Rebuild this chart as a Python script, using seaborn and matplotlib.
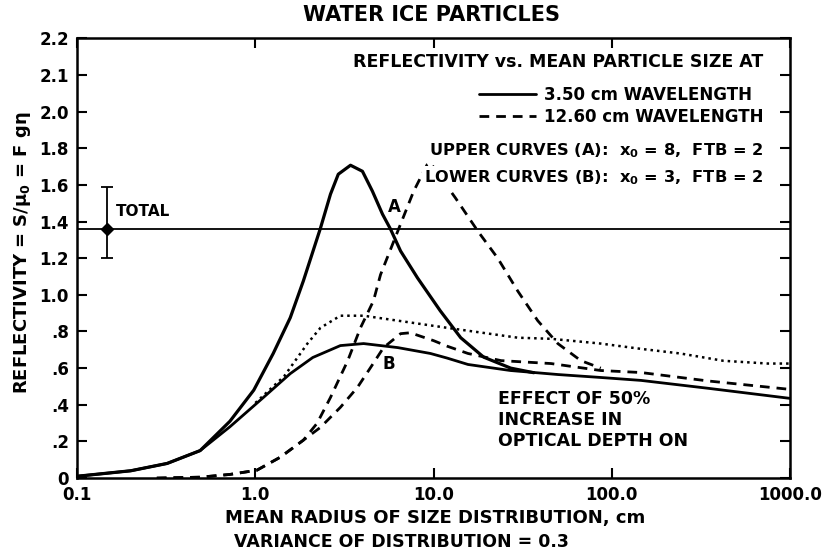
import numpy as np
import matplotlib
matplotlib.use('Agg')
import matplotlib.pyplot as plt
from matplotlib.lines import Line2D
from matplotlib.ticker import NullLocator, FixedLocator
import seaborn as sns

# curves (x = mean radius, cm ; y = reflectivity)
solid_a_x = [0.1, 0.2, 0.32, 0.49, 0.72, 0.98, 1.26, 1.57, 1.86, 2.32, 2.64, 2.92, 3.42, 3.99, 4.54,
             5.17, 5.73, 6.53, 8.13, 10.9, 14.2, 19.1, 27.1, 36.5]
solid_a_y = [0.01, 0.04, 0.08, 0.15, 0.31, 0.48, 0.68, 0.875, 1.076, 1.364, 1.549, 1.658, 1.707, 1.674, 1.565,
             1.44, 1.359, 1.239, 1.092, 0.913, 0.766, 0.66, 0.60, 0.575]

solid_b_x = [0.1, 0.2, 0.32, 0.49, 0.72, 1.11, 1.57, 2.1, 3.0, 4.05, 6.3, 9.6, 11.9, 15.6, 27.0, 50.0,
             86.7, 146.0, 347.0, 1000.0]
solid_b_y = [0.01, 0.04, 0.08, 0.15, 0.28, 0.44, 0.57, 0.658, 0.723, 0.734, 0.712, 0.68, 0.655, 0.62, 0.587, 0.565,
             0.549, 0.533, 0.49, 0.435]

dash_a_x = [0.28, 0.49, 0.72, 1.02, 1.38, 1.86, 2.22, 2.64, 3.3, 3.89, 4.6, 5.04, 6.53, 7.73, 9.2, 9.6,
            13.3, 17.7, 22.9, 29.7, 38.4, 49.8, 67.0, 86.7]
dash_a_y = [0.0, 0.005, 0.02, 0.043, 0.114, 0.207, 0.299, 0.44, 0.641, 0.82, 0.967, 1.11, 1.386, 1.565, 1.71, 1.72,
            1.527, 1.348, 1.20, 1.02, 0.859, 0.734, 0.641, 0.60]

dash_b_x = [0.28, 0.49, 0.72, 1.02, 1.38, 1.86, 2.32, 3.0, 3.74, 4.43, 5.24, 6.53, 7.4, 10.0, 11.9, 15.6,
            23.9, 45.6, 86.7, 146.0, 347.0, 1000.0]
dash_b_y = [0.0, 0.005, 0.02, 0.043, 0.114, 0.207, 0.277, 0.386, 0.495, 0.603, 0.712, 0.788, 0.793, 0.75, 0.72, 0.68,
            0.641, 0.625, 0.587, 0.576, 0.53, 0.484]

# effect of 50% increase in optical depth (dotted)
dot_x = [1.0, 1.45, 1.96, 2.32, 3.0, 4.05, 6.3, 11.9, 29.7, 45.6, 86.7, 146.0, 242.0, 423.0, 752.0, 1000.0]
dot_y = [0.41, 0.555, 0.734, 0.82, 0.886, 0.886, 0.859, 0.82, 0.766, 0.76, 0.734, 0.705, 0.68, 0.64, 0.625, 0.625]

total_x = 0.148
total_y = 1.36
total_lo = 1.20
total_hi = 1.59

x_ticks = [0.1, 1.0, 10.0, 100.0, 1000.0]
x_labels = ['0.1', '1.0', '10.0', '100.0', '1000.0']
y_ticks = [0, 0.2, 0.4, 0.6, 0.8, 1.0, 1.2, 1.4, 1.6, 1.8, 2.0, 2.2, 2.4]
y_labels = ['0', '.2', '.4', '.6', '.8', '1.0', '1.2', '1.4', '1.6', '1.8', '2.0', '2.1', '2.2']

sns.set_style('ticks')
plt.rcParams['font.family'] = ['DejaVu Sans']
plt.rcParams['font.weight'] = 'bold'
plt.rcParams['text.color'] = 'black'
plt.rcParams['axes.labelcolor'] = 'black'
plt.rcParams['xtick.color'] = 'black'
plt.rcParams['ytick.color'] = 'black'

dash = (0, (3.5, 2.5))

fig = plt.figure(figsize=(8.29, 5.54), dpi=100)
ax = fig.add_axes([0.093, 0.137, 0.860, 0.794])

ax.axhline(total_y, color='black', lw=1.3, zorder=1)

sns.lineplot(x=solid_a_x, y=solid_a_y, ax=ax, color='black', lw=2.3, sort=False)
sns.lineplot(x=solid_b_x, y=solid_b_y, ax=ax, color='black', lw=2.0, sort=False)
sns.lineplot(x=dash_a_x, y=dash_a_y, ax=ax, color='black', lw=2.0, sort=False, linestyle=dash)
sns.lineplot(x=dash_b_x, y=dash_b_y, ax=ax, color='black', lw=2.0, sort=False, linestyle=dash)
sns.lineplot(x=dot_x, y=dot_y, ax=ax, color='black', lw=1.8, sort=False, linestyle=(0, (1, 1.6)))

ax.errorbar([total_x], [total_y], yerr=[[total_y - total_lo], [total_hi - total_y]],
            fmt='D', color='black', ms=6, capsize=4, elinewidth=1.3, capthick=1.3)

ax.set_xscale('log')
ax.set_xlim(0.1, 1000)
ax.set_ylim(0, 2.4)
ax.xaxis.set_major_locator(FixedLocator(x_ticks))
ax.xaxis.set_minor_locator(NullLocator())
ax.set_xticks(x_ticks)
ax.set_xticklabels(x_labels, fontsize=12, fontweight='bold')
ax.set_yticks(y_ticks)
ax.set_yticklabels(y_labels, fontsize=12, fontweight='bold')
ax.tick_params(direction='in', length=7, width=1.5, top=True, right=True, pad=6, colors='black')
for s in ax.spines.values():
    s.set_linewidth(1.8)
    s.set_color('black')

box = dict(fc='white', ec='none', pad=1)
ax.text(0.962, 0.945, 'REFLECTIVITY vs. MEAN PARTICLE SIZE AT', transform=ax.transAxes,
        ha='right', va='center', fontsize=12.5, fontweight='bold')
ax.text(0.962, 0.745, 'UPPER CURVES (A):  x$_\\mathbf{0}$ = 8,  FTB = 2', transform=ax.transAxes,
        ha='right', va='center', bbox=box, zorder=5, fontsize=11.7, fontweight='bold')
ax.text(0.962, 0.684, 'LOWER CURVES (B):  x$_\\mathbf{0}$ = 3,  FTB = 2', transform=ax.transAxes,
        ha='right', va='center', bbox=box, zorder=5, fontsize=11.7, fontweight='bold')
ax.text(0.59, 0.2, 'EFFECT OF 50%\nINCREASE IN\nOPTICAL DEPTH ON', transform=ax.transAxes,
        ha='left', va='top', linespacing=1.2, fontsize=12.5, fontweight='bold')
ax.text(0.166, 1.457, 'TOTAL', ha='left', va='center', fontsize=11, fontweight='bold')
ax.text(6.0, 1.48, 'A', ha='center', va='center', fontsize=12, fontweight='bold')
ax.text(5.58, 0.625, 'B', ha='center', va='center', fontsize=12, fontweight='bold')

handles = [Line2D([], [], color='black', lw=2.0),
           Line2D([], [], color='black', lw=2.0, linestyle=dash)]
leg = ax.legend(handles, ['3.50 cm WAVELENGTH', '12.60 cm WAVELENGTH'], loc='upper right',
                bbox_to_anchor=(0.984, 0.925), frameon=False, handlelength=3.4,
                handletextpad=0.5, labelspacing=0.2, prop={'size': 12, 'weight': 'bold'})

fig.text(0.52, 0.973, 'WATER ICE PARTICLES', ha='center', va='center', fontsize=15, fontweight='bold')
fig.text(0.525, 0.065, 'MEAN RADIUS OF SIZE DISTRIBUTION, cm', ha='center', va='center',
         fontsize=13, fontweight='bold')
fig.text(0.484, 0.022, 'VARIANCE OF DISTRIBUTION = 0.3', ha='center', va='center',
         fontsize=12.5, fontweight='bold')
fig.text(0.027, 0.543, 'REFLECTIVITY = S/$\\mathbf{\\mu_0}$ = F g$\\mathbf{\\eta}$', rotation=90,
         ha='center', va='center', fontsize=13, fontweight='bold')

plt.savefig('out.png', dpi=100)
